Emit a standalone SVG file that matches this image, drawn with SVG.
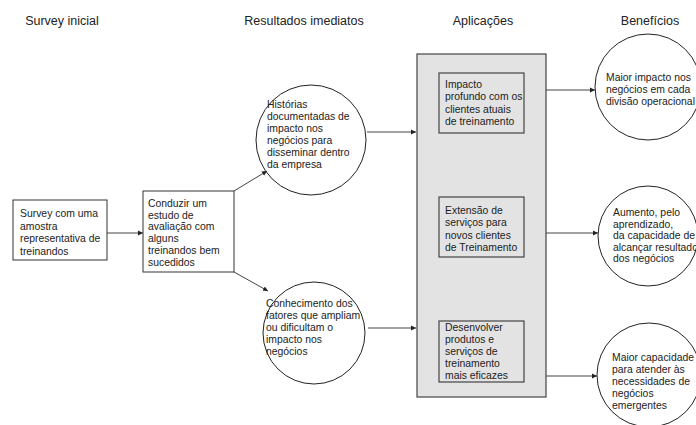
<svg xmlns="http://www.w3.org/2000/svg" width="696" height="425" viewBox="0 0 696 425">
<defs>
<marker id="ah" markerWidth="6" markerHeight="6" refX="5" refY="3" orient="auto" markerUnits="userSpaceOnUse">
<path d="M0,0.5 L5,3 L0,5.5 Z" fill="#222"/>
</marker>
<style>
.hd{font-family:"Liberation Sans",Arial,sans-serif;font-size:12.5px;fill:#222;text-anchor:middle}
.t{font-family:"Liberation Sans",Arial,sans-serif;font-size:10.4px;fill:#222}
.box{fill:#fff;stroke:#333;stroke-width:1}
.gbox{fill:#e3e3e3;stroke:#444;stroke-width:1.2}
.circ{fill:#fff;stroke:#222;stroke-width:1}
.con{stroke:#444;stroke-width:1;fill:none;marker-end:url(#ah)}
</style>
</defs>
<rect width="696" height="425" fill="#fff"/>
<g id="headers">
<text class="hd" x="62" y="25">Survey inicial</text>
<text class="hd" x="304" y="25">Resultados imediatos</text>
<text class="hd" x="483" y="25">Aplicações</text>
<text class="hd" x="650" y="25">Benefícios</text>
</g>
<g id="survey">
<rect class="box" x="13" y="200" width="94" height="60"/>
<text class="t" x="20" y="217">Survey com uma</text>
<text class="t" x="20" y="229.5">amostra</text>
<text class="t" x="20" y="242">representativa de</text>
<text class="t" x="20" y="254.5">treinandos</text>
</g>
<g id="estudo">
<rect class="box" x="143" y="191" width="91" height="81"/>
<text class="t" x="148" y="207">Conduzir um</text>
<text class="t" x="148" y="218.7">estudo de</text>
<text class="t" x="148" y="230.4">avaliação com</text>
<text class="t" x="148" y="242.1">alguns</text>
<text class="t" x="148" y="253.8">treinandos bem</text>
<text class="t" x="148" y="265.5">sucedidos</text>
</g>
<g id="historias">
<circle class="circ" cx="311" cy="140" r="55"/>
<text class="t" x="267" y="108">Histórias</text>
<text class="t" x="267" y="120">documentadas de</text>
<text class="t" x="267" y="132">impacto nos</text>
<text class="t" x="267" y="144">negócios para</text>
<text class="t" x="267" y="156">disseminar dentro</text>
<text class="t" x="267" y="168">da empresa</text>
</g>
<g id="conhecimento">
<circle class="circ" cx="314" cy="333" r="51"/>
<text class="t" x="266" y="307">Conhecimento dos</text>
<text class="t" x="266" y="319">fatores que ampliam</text>
<text class="t" x="266" y="331">ou dificultam o</text>
<text class="t" x="266" y="343">impacto nos</text>
<text class="t" x="266" y="355">negócios</text>
</g>
<g id="aplicacoes">
<rect class="gbox" x="417" y="54" width="129" height="343"/>
</g>
<g id="impacto">
<rect class="gbox" x="439" y="73" width="85" height="60"/>
<text class="t" x="445" y="88">Impacto</text>
<text class="t" x="445" y="100.3">profundo com os</text>
<text class="t" x="445" y="112.6">clientes atuais</text>
<text class="t" x="445" y="124.9">de treinamento</text>
</g>
<g id="extensao">
<rect class="gbox" x="439" y="197" width="85" height="60"/>
<text class="t" x="445" y="214">Extensão de</text>
<text class="t" x="445" y="226.3">serviços para</text>
<text class="t" x="445" y="238.6">novos clientes</text>
<text class="t" x="445" y="250.9">de Treinamento</text>
</g>
<g id="desenvolver">
<rect class="gbox" x="439" y="321" width="85" height="61"/>
<text class="t" x="445" y="331">Desenvolver</text>
<text class="t" x="445" y="343">produtos e</text>
<text class="t" x="445" y="355">serviços de</text>
<text class="t" x="445" y="367">treinamento</text>
<text class="t" x="445" y="379">mais eficazes</text>
</g>
<g id="beneficio1">
<circle class="circ" cx="648" cy="87" r="53"/>
<text class="t" x="606" y="81">Maior impacto nos</text>
<text class="t" x="606" y="93">negócios em cada</text>
<text class="t" x="606" y="105">divisão operacional</text>
</g>
<g id="beneficio2">
<circle class="circ" cx="648" cy="236" r="50"/>
<text class="t" x="613" y="216">Aumento, pelo</text>
<text class="t" x="613" y="227.5">aprendizado,</text>
<text class="t" x="613" y="239">da capacidade de</text>
<text class="t" x="613" y="250.5">alcançar resultados</text>
<text class="t" x="613" y="262">dos negócios</text>
</g>
<g id="beneficio3">
<circle class="circ" cx="649" cy="375" r="52"/>
<text class="t" x="612" y="361">Maior capacidade</text>
<text class="t" x="612" y="373">para atender às</text>
<text class="t" x="612" y="385">necessidades de</text>
<text class="t" x="612" y="397">negócios</text>
<text class="t" x="612" y="409">emergentes</text>
</g>
<g id="connectors">
<line class="con" x1="107" y1="233" x2="143" y2="233"/>
<line class="con" x1="234" y1="191" x2="267" y2="171"/>
<line class="con" x1="234" y1="272" x2="268" y2="291"/>
<line class="con" x1="367" y1="132" x2="416" y2="132"/>
<line class="con" x1="368" y1="328" x2="416" y2="328"/>
<line class="con" x1="546" y1="90" x2="595" y2="90"/>
<line class="con" x1="546" y1="233" x2="598" y2="233"/>
<line class="con" x1="546" y1="376" x2="597" y2="376"/>
</g>
</svg>
